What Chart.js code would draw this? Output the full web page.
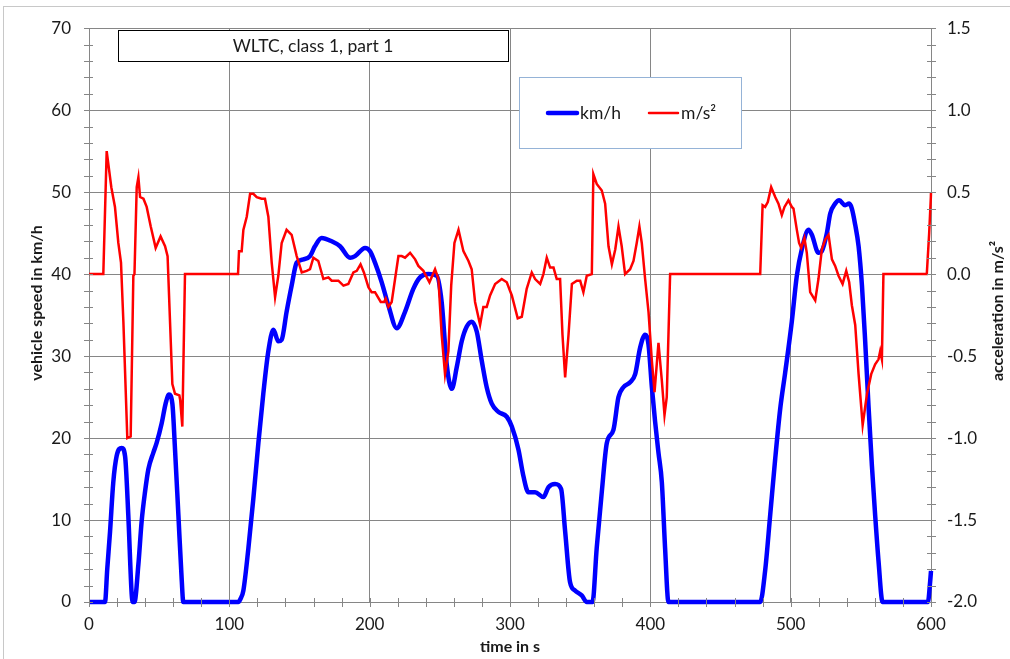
<!DOCTYPE html>
<html>
<head>
<meta charset="utf-8">
<title>WLTC, class 1, part 1</title>
<script src="https://cdn.jsdelivr.net/npm/chart.js@4.4.1/dist/chart.umd.min.js"></script>
<style>
  html, body { margin: 0; padding: 0; background: #fff; }
  #wrap { width: 1010px; height: 659px; }
</style>
</head>
<body>
<div id="wrap"><canvas id="grafico" width="1010" height="659"></canvas></div>
<script>
// Datos (tiempo en s)
const speedTime = [0, 11.4, 13, 15, 17.3, 19.7, 23.3, 25.7, 28, 30.4, 31.2, 32.4, 35.2, 37.5, 39.9, 42.3, 45.8, 48.2, 51.8, 54.6, 57, 59.4, 61.3, 63.7, 66.1, 67.2,
  106.4, 108, 110, 113.6, 117.1, 120.7, 124.2, 127.8, 131.4, 134.9, 137.3, 140.8, 144.4, 148, 152.8, 157.5, 161, 165.8, 172.9, 178.9, 186, 189.6, 196.7, 200.3,
  203.8, 208.6, 213.3, 219.3, 225.2, 231.1, 235.9, 241.8, 247.8, 251.3, 254.9, 258.5, 262, 265.6, 269.2, 272.7, 276.3, 279.9, 283.4, 287, 291.7, 297.7, 301.3,
  306, 309.5, 313.1, 317.9, 323.8, 327.4, 332.1, 336.4, 339.3, 342.8, 346.4, 351.1, 354.7, 358.8, 361.8, 365.4, 369, 373.7, 377.3, 380.8, 385.6, 389.2, 392.7,
  396.3, 398.7, 401.1, 403.4, 405.8, 408.2, 410.5, 412.9, 478.3, 481.8, 485.4, 489, 492.5, 496.1, 500.8, 504.4, 507.9, 512.7, 515.1, 519.8, 522.2, 525.8,
  528.2, 531.7, 534.6, 538.8, 541.7, 543.6, 546, 548.4, 550.8, 553.1, 555.5, 557.9, 560.2, 562.6, 565.5, 597.8, 599.4, 600];
const speedKmh = [0, 0, 4.0, 8.6, 14.6, 17.8, 18.8, 17.8, 10.6, 1.0, 0, 0, 4.6, 9.8, 13.4, 16.2, 18.2, 19.4, 21.8, 24.2, 25.3, 24.2, 18.6, 10.6, 2.6, 0,
  0, 0.4, 1.4, 6.6, 12.6, 19.4, 25.4, 30.6, 33.2, 31.8, 32.0, 35.4, 38.6, 41.4, 41.8, 42.2, 43.4, 44.4, 44.0, 43.4, 42.0, 42.2, 43.2, 42.8,
  41.4, 39.0, 36.2, 33.4, 35.4, 38.2, 39.6, 40.0, 39.8, 36.6, 29.0, 26.0, 28.6, 31.8, 33.6, 34.2, 33.0, 29.4, 26.2, 24.2, 23.2, 22.6, 21.4,
  18.6, 15.4, 13.4, 13.4, 12.8, 14.0, 14.4, 13.8, 8.6, 2.4, 1.4, 0.8, 0, 0, 6.6, 13.4, 19.4, 21.0, 25.0, 26.2, 26.8, 27.8, 31.0,
  32.6, 31.4, 26.2, 22.0, 18.2, 14.6, 6.6, 0, 0, 3.8, 10.6, 17.5, 23.5, 28.0, 34.2, 39.8, 43.0, 45.4, 44.8, 42.6, 42.8, 45.0,
  47.4, 48.6, 49.0, 48.4, 48.6, 48.0, 46.0, 43.4, 38.6, 31.8, 23.8, 16.6, 10.6, 5.0, 0, 0, 2.5, 3.8];

const accTime = [0, 10.2, 12.6, 15.9, 18.5, 20.9, 22.8, 24.5, 27.3, 29.7, 31.6, 32.4, 34, 35.2, 36.4, 38.8, 41.1, 44, 47.5, 51, 54.2, 56, 59.4, 61.3, 64.4, 65, 66.5, 68.4,
  106.2, 106.9, 108.8, 110, 112.4, 114.8, 117.1, 119.5, 123, 125.4, 127.8, 130.2, 132.6, 134.9, 137.3, 140.8, 144.4, 148, 151.6, 155.1, 157.5, 159.9, 163.4,
  167, 170.6, 172.9, 177.7, 181.3, 184.8, 188.4, 190.8, 193.5, 195.9, 199.1, 201.4, 203.8, 207.9, 210.3, 211.4, 213.3, 215.7, 218.1, 220.5, 222.8, 225.2,
  228.8, 232.4, 234.7, 238.3, 242.6, 246.6, 249, 251.3, 253.7, 256.1, 258.1, 260.4, 263.3, 266.8, 270.4, 272.7, 275.1, 278.7, 281, 283.4, 285.8, 289.4,
  294.1, 297.7, 301.3, 305.5, 308.4, 311.9, 315.5, 317.9, 321.5, 323.8, 326.2, 328.6, 331, 333.3, 335.7, 337.4, 339.3, 341.7, 344.1, 347.6, 350, 352.3,
  354.7, 358.3, 359.4, 361.8, 365.4, 367.8, 370.2, 372.6, 375, 377.3, 379.6, 382, 385.6, 388, 390.3, 392.2, 393.9, 396.3, 398.7, 401.1, 403, 405.8, 408.2,
  410.1, 411.7, 414.1, 478.3, 480, 481.8, 483.7, 486.1, 489, 491.3, 493.7, 495.6, 498.4, 500.8, 502, 504.4, 506, 507.5, 509.8, 511.5, 513.9, 517.5, 519.8,
  522.2, 524.6, 527, 529.4, 531.7, 534.1, 537, 539.6, 541.7, 543.6, 546, 548.4, 551.3, 554.4, 557.4, 560.2, 562.6, 563.8, 565, 566.1, 597, 598.7, 599.9, 600];
const accMs2 = [0, 0, 0.75, 0.53, 0.41, 0.19, 0.07, -0.29, -1.0, -0.99, -0.01, 0, 0.53, 0.59, 0.47, 0.46, 0.41, 0.29, 0.16, 0.23, 0.17, 0.11, -0.67, -0.73, -0.74, -0.77, -0.93, 0,
  0, 0.14, 0.14, 0.27, 0.35, 0.49, 0.49, 0.47, 0.46, 0.46, 0.35, 0.07, -0.14, -0.01, 0.19, 0.27, 0.24, 0.11, 0.01, 0.02, 0.03, 0.10, 0.08,
  -0.03, -0.02, -0.04, -0.04, -0.07, -0.06, 0.01, 0.02, 0.06, 0.01, -0.08, -0.11, -0.11, -0.17, -0.17, -0.15, -0.20, -0.17, -0.03, 0.11, 0.11, 0.10,
  0.13, 0.09, 0.05, 0.02, -0.05, 0.03, -0.03, -0.37, -0.61, -0.47, -0.07, 0.19, 0.27, 0.14, 0.08, 0.03, -0.17, -0.31, -0.20, -0.20, -0.13, -0.06,
  -0.03, -0.05, -0.13, -0.27, -0.26, -0.09, 0.01, -0.03, -0.06, 0, 0.10, 0.04, 0.04, -0.03, -0.03, -0.37, -0.63, -0.37, -0.06, -0.04, -0.04, -0.11,
  -0.01, 0, 0.61, 0.55, 0.51, 0.43, 0.17, 0.06, 0.15, 0.29, 0.17, 0, 0.03, 0.08, 0.19, 0.29, 0.19, -0.03, -0.23, -0.53, -0.72, -0.42, -0.65,
  -0.86, -0.75, 0, 0, 0.42, 0.41, 0.44, 0.53, 0.47, 0.43, 0.36, 0.41, 0.45, 0.41, 0.40, 0.27, 0.19, 0.16, 0.22, 0.13, -0.11, -0.16, -0.03,
  0.15, 0.21, 0.24, 0.09, 0.05, -0.01, -0.06, 0.02, -0.05, -0.19, -0.31, -0.61, -0.92, -0.73, -0.61, -0.55, -0.52, -0.47, -0.52, 0, 0, 0.25, 0.47, 0.50];

const timeTicks = [0, 100, 200, 300, 400, 500, 600];
const speedTicks = [0, 10, 20, 30, 40, 50, 60, 70];
const accTicks = [-2.0, -1.5, -1.0, -0.5, 0.0, 0.5, 1.0, 1.5];
const seriesLabels = ['km/h', 'm/s²'];
const chartTitle = 'WLTC, class 1, part 1';
const xTitle = 'time in s';
const yLeftTitle = 'vehicle speed in km/h';
const yRightTitle = 'acceleration in m/s²';

const fuente = "Lato, 'Open Sans', sans-serif";
const gris = '#868686';
const colorTexto = '#1a1a1a';

function puntos(xs, ys) { return xs.map((x, i) => ({ x: x, y: ys[i] })); }

// Marcas de ejes, titulos de ejes, cuadro de titulo y leyenda
const decoracion = {
  id: 'decoracion',
  afterDraw(chart) {
    const ctx = chart.ctx;
    const { left, right, top, bottom } = chart.chartArea;
    const sx = chart.scales.x, sl = chart.scales.yL, sr = chart.scales.yR;
    ctx.save();

    // borde exterior
    ctx.strokeStyle = '#c8c8c8'; ctx.lineWidth = 1;
    ctx.strokeRect(3.5, 6.5, 1100, 700);

    // marcas (mayores y menores) cruzando los ejes
    ctx.strokeStyle = gris;
    ctx.beginPath();
    for (let v = 0; v <= 600; v += 20) {
      const p = Math.round(sx.getPixelForValue(v)) + 0.5;
      ctx.moveTo(p, bottom - 4); ctx.lineTo(p, bottom + 5);
    }
    for (let v = 0; v <= 70; v += 2) {
      const p = Math.round(sl.getPixelForValue(v)) + 0.5;
      ctx.moveTo(left - 5, p); ctx.lineTo(left + 4, p);
    }
    for (let i = -20; i <= 15; i++) {
      const p = Math.round(sr.getPixelForValue(i / 10)) + 0.5;
      ctx.moveTo(right - 4, p); ctx.lineTo(right + 5, p);
    }
    ctx.stroke();

    // titulos de los ejes verticales (ambos de abajo hacia arriba)
    ctx.fillStyle = colorTexto;
    ctx.font = 'bold 16px ' + fuente;
    ctx.textAlign = 'center'; ctx.textBaseline = 'middle';
    ctx.save(); ctx.translate(37, 303); ctx.rotate(-Math.PI / 2); ctx.fillText(yLeftTitle, 0, 0); ctx.restore();
    ctx.save(); ctx.translate(998, 311); ctx.rotate(-Math.PI / 2); ctx.fillText(yRightTitle, 0, 0); ctx.restore();

    // cuadro del titulo
    ctx.fillStyle = '#fff'; ctx.fillRect(118, 30, 390, 31);
    ctx.strokeStyle = '#000'; ctx.lineWidth = 1; ctx.strokeRect(118.5, 30.5, 390, 31);
    ctx.fillStyle = colorTexto; ctx.font = '17.5px ' + fuente;
    ctx.fillText(chartTitle, 313, 46);

    // leyenda
    ctx.fillStyle = '#fff'; ctx.fillRect(519, 77, 223, 72);
    ctx.strokeStyle = '#95b3d7'; ctx.strokeRect(519.5, 77.5, 222, 71);
    ctx.font = '17.5px ' + fuente; ctx.textAlign = 'left';
    const posLeyenda = [548, 649];
    const ds = chart.data.datasets;
    [ds[1], ds[0]].forEach((d, i) => {
      const x0 = posLeyenda[i];
      ctx.strokeStyle = d.borderColor; ctx.lineWidth = d.borderWidth; ctx.lineCap = 'round';
      ctx.beginPath(); ctx.moveTo(x0, 113); ctx.lineTo(x0 + 29, 113); ctx.stroke();
      ctx.fillStyle = colorTexto; ctx.fillText(d.label, x0 + 32, 113);
    });
    ctx.restore();
  }
};

const chart = new Chart(document.getElementById('grafico').getContext('2d'), {
  type: 'line',
  data: {
    datasets: [
      { label: seriesLabels[1], data: puntos(accTime, accMs2), yAxisID: 'yR', borderColor: '#ff0000', borderWidth: 2.5,
        pointRadius: 0, tension: 0, clip: false, order: 0 },
      { label: seriesLabels[0], data: puntos(speedTime, speedKmh), yAxisID: 'yL', borderColor: '#0000ff', borderWidth: 4.5,
        pointRadius: 0, cubicInterpolationMode: 'monotone', clip: false, order: 1 }
    ]
  },
  options: {
    responsive: false,
    animation: false,
    devicePixelRatio: 1,
    layout: { padding: { top: 18, left: 0, right: 0, bottom: 0 } },
    plugins: { legend: { display: false }, tooltip: { enabled: false } },
    scales: {
      x: {
        type: 'linear', min: 0, max: 600,
        afterBuildTicks: s => { s.ticks = timeTicks.map(v => ({ value: v })); },
        afterFit: s => { s.height = 57; },
        grid: { color: gris, drawTicks: false },
        border: { color: gris },
        ticks: { padding: 12, maxRotation: 0, color: colorTexto, font: { family: fuente, size: 17 } },
        title: { display: true, text: xTitle, color: colorTexto, font: { family: fuente, size: 16, weight: 'bold' }, padding: { top: 0, bottom: 3 } }
      },
      yL: {
        type: 'linear', position: 'left', min: 0, max: 70,
        afterBuildTicks: s => { s.ticks = speedTicks.map(v => ({ value: v })); },
        afterFit: s => { s.width = 89; },
        grid: { color: gris, drawTicks: false },
        border: { color: gris },
        ticks: { padding: 18, color: colorTexto, font: { family: fuente, size: 17 } }
      },
      yR: {
        type: 'linear', position: 'right', min: -2, max: 1.5,
        afterBuildTicks: s => { s.ticks = accTicks.map(v => ({ value: v })); },
        afterFit: s => { s.width = 79; },
        grid: { drawOnChartArea: false, drawTicks: false },
        border: { color: gris },
        ticks: { padding: 16, color: colorTexto, font: { family: fuente, size: 17 }, callback: v => Number(v).toFixed(1) }
      }
    }
  },
  plugins: [decoracion]
});
</script>
</body>
</html>
